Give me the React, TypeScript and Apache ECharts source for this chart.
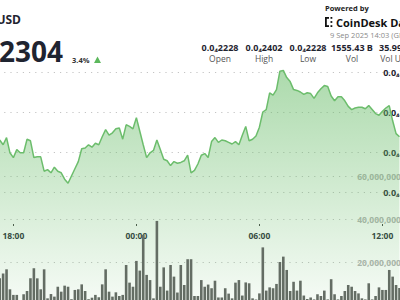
import { useEffect, useRef } from "react";
import * as echarts from "echarts";

// ---- data ----
const START_MINUTES = 17 * 60 + 20; // first 10-minute bucket shown
const STEP_MINUTES = 10;
const TIME_TICK_LABELS = ["18:00", "00:00", "06:00", "12:00"];

// price in units of 0.0₄ (i.e. 2304 => 0.00002304)
const PRICES = [
  2315, 2309, 2318, 2299, 2293, 2303, 2299, 2299, 2316, 2314,
  2293, 2294, 2294, 2276, 2278, 2274, 2281, 2276, 2274, 2266,
  2261, 2270, 2279, 2288, 2304, 2305, 2309, 2306, 2311, 2309,
  2319, 2328, 2321, 2324, 2329, 2330, 2316, 2334, 2332, 2329,
  2343, 2326, 2309, 2293, 2299, 2302, 2315, 2303, 2291, 2289,
  2283, 2288, 2286, 2287, 2289, 2296, 2274, 2277, 2285, 2296,
  2298, 2293, 2313, 2318, 2312, 2315, 2314, 2312, 2310, 2313,
  2309, 2321, 2332, 2314, 2316, 2320, 2331, 2350, 2353, 2374,
  2371, 2378, 2401, 2402, 2393, 2388, 2378, 2377, 2375, 2372,
  2374, 2373, 2367, 2374, 2379, 2383, 2382, 2370, 2364, 2369,
  2369, 2364, 2357, 2353, 2355, 2356, 2356, 2354, 2358, 2353,
  2348, 2346, 2351, 2355, 2358, 2339, 2323, 2319,
];

// volume, billions
const VOLUME_BILLIONS = [
  12.4, 14.7, 16.6, 7.3, 4.7, 4.7, 2.3, 5.0, 6.5, 12.4,
  17.1, 12.4, 7.3, 16.6, 3.1, 5.1, 3.9, 8.5, 6.2, 9.0,
  8.5, 2.7, 7.0, 7.3, 9.6, 6.5, 2.7, 3.4, 4.7, 3.6,
  9.6, 16.6, 6.2, 3.9, 5.9, 4.2, 4.7, 18.6, 10.4, 8.5,
  20.5, 16.0, 32.6, 14.0, 11.6, 3.1, 39.1, 8.5, 17.5, 6.7,
  18.6, 13.2, 5.8, 18.6, 9.3, 21.3, 21.3, 4.2, 4.2, 11.6,
  8.5, 9.5, 7.8, 11.3, 3.5, 3.5, 7.8, 5.3, 3.1, 10.4,
  11.6, 4.4, 10.5, 10.1, 3.1, 2.6, 5.4, 26.8, 6.7, 8.2,
  7.8, 9.8, 20.0, 22.5, 16.3, 6.5, 10.8, 6.7, 11.3, 4.4,
  2.8, 3.5, 2.6, 5.0, 4.2, 6.7, 2.6, 12.0, 5.0, 2.6,
  4.2, 6.5, 9.3, 8.5, 6.5, 5.4, 3.1, 2.6, 10.1, 2.6,
  4.2, 8.2, 7.0, 7.0, 16.3, 13.2, 9.3, 7.9,
];

const PRICE_MIN = 2100;
const PRICE_MAX = 2400;
const PRICE_STEP = 50;
const PRICE_LABEL_FROM = 2250;

const VOLUME_MAX = 60e9;
const VOLUME_STEP = 20e9;

const HEADER_PAIR = "USD";
const HEADER_PRICE = "2304";
const HEADER_CHANGE = "3.4%";
const POWERED_BY = "Powered by";
const BRAND = "CoinDesk Data";
const TIMESTAMP = "9 Sep 2025 14:03 (GMT)";
const STAT_VALUES = ["0.0₄2228", "0.0₄2402", "0.0₄2228", "1555.43 B", "35.99 M"];
const STAT_LABELS = ["Open", "High", "Low", "Vol", "Vol USD"];

// ---- derived ----
const CATEGORIES = PRICES.map((_, i) => {
  const m = (START_MINUTES + i * STEP_MINUTES) % 1440;
  return `${String(Math.floor(m / 60)).padStart(2, "0")}:${String(m % 60).padStart(2, "0")}`;
});

const FONT = '"Open Sans", "DejaVu Sans", sans-serif';
const GRID_COLOR = "#c4c4c4";
const DOTS: number[] = [1.2, 5];

const GRID_LEFT = -2;
const GRID_WIDTH = 403.2;

export default function App() {
  const ref = useRef<HTMLDivElement>(null);

  useEffect(() => {
    if (!ref.current) return;
    const chart = echarts.init(ref.current, null, { renderer: "svg" });

    const priceTicks: number[] = [];
    for (let v = PRICE_MIN; v <= PRICE_MAX; v += PRICE_STEP) priceTicks.push(v);
    const priceLineColors = priceTicks.map((t) => (t >= PRICE_LABEL_FROM ? GRID_COLOR : "rgba(0,0,0,0)"));

    const showTick = (_: number, value: string) => TIME_TICK_LABELS.includes(value);

    const statsGraphics: any[] = [];
    STAT_VALUES.forEach((v, i) => {
      const cx = 220 + 44 * i;
      statsGraphics.push({
        type: "text",
        x: cx,
        y: 47,
        style: { text: v, fill: "#1f2430", font: `bold 9px ${FONT}`, textAlign: "center", textVerticalAlign: "middle", verticalAlign: "middle" },
      });
      statsGraphics.push({
        type: "text",
        x: cx,
        y: 58.5,
        style: { text: STAT_LABELS[i], fill: "#555", font: `8.5px ${FONT}`, textAlign: "center", textVerticalAlign: "middle", verticalAlign: "middle" },
      });
    });

    const gridBase = { left: GRID_LEFT, width: GRID_WIDTH, containLabel: false, outerBoundsMode: "none" };

    const option: any = {
      animation: false,
      backgroundColor: "#ffffff",
      grid: [
        { ...gridBase, top: 72, height: 240 },
        { ...gridBase, top: 176, height: 129 },
        { ...gridBase, top: 190, height: 34 },
      ],
      xAxis: [
        { type: "category", gridIndex: 0, data: CATEGORIES, boundaryGap: true, show: false },
        { type: "category", gridIndex: 1, data: CATEGORIES, boundaryGap: true, show: false },
        {
          type: "category",
          gridIndex: 2,
          data: CATEGORIES,
          boundaryGap: true,
          position: "bottom",
          axisLine: { show: false },
          axisTick: { show: true, alignWithLabel: true, interval: showTick, length: 2, lineStyle: { color: "#444", width: 1 } },
          axisLabel: { interval: showTick, color: "#2b2f38", fontWeight: "bold", fontSize: 8.5, fontFamily: FONT, margin: 7, hideOverlap: false },
          splitLine: { show: false },
        },
      ],
      yAxis: [
        {
          type: "value",
          gridIndex: 0,
          position: "right",
          min: PRICE_MIN,
          max: PRICE_MAX,
          interval: PRICE_STEP,
          axisLine: { show: false },
          axisTick: { show: false },
          axisLabel: {
            inside: true,
            align: "left",
            margin: 18,
            color: "#1f2430",
            fontWeight: "bold",
            fontSize: 9,
            fontFamily: FONT,
            hideOverlap: false,
            formatter: (v: number) => (v >= PRICE_LABEL_FROM ? `0.0₄${v}` : ""),
          },
          splitLine: { show: true, lineStyle: { color: priceLineColors, type: DOTS, width: 1 } },
        },
        {
          type: "value",
          gridIndex: 1,
          position: "right",
          min: 0,
          max: VOLUME_MAX,
          interval: VOLUME_STEP,
          axisLine: { show: false },
          axisTick: { show: false },
          axisLabel: {
            inside: true,
            align: "left",
            margin: 44,
            color: "#b3b3b3",
            fontWeight: "bold",
            fontSize: 8.5,
            fontFamily: FONT,
            hideOverlap: false,
            formatter: (v: number) => (v === 0 ? "" : v.toLocaleString("en-US")),
          },
          splitLine: { show: true, lineStyle: { color: GRID_COLOR, type: DOTS, width: 1 } },
        },
        { type: "value", gridIndex: 2, show: false },
      ],
      series: [
        {
          type: "line",
          xAxisIndex: 0,
          yAxisIndex: 0,
          data: PRICES,
          symbol: "none",
          clip: false,
          lineStyle: { color: "#6cbd6c", width: 1.5 },
          areaStyle: {
            origin: "start",
            color: new echarts.graphic.LinearGradient(0, 0, 0, 1, [
              { offset: 0, color: "rgba(104,188,104,0.78)" },
              { offset: 1, color: "rgba(104,188,104,0.06)" },
            ]),
          },
          z: 1,
        },
        {
          type: "bar",
          xAxisIndex: 1,
          yAxisIndex: 1,
          data: VOLUME_BILLIONS.map((v) => v * 1e9),
          barWidth: "76%",
          itemStyle: { color: "#646d64" },
          z: 2,
        },
      ],
      graphic: [
        {
          type: "text",
          x: 21,
          y: 19.5,
          style: { text: HEADER_PAIR, fill: "#1f2430", font: `bold 12px ${FONT}`, textAlign: "right", textVerticalAlign: "middle", verticalAlign: "middle" },
        },
        {
          type: "text",
          x: 63,
          y: 51,
          style: { text: HEADER_PRICE, fill: "#1f2430", font: `bold 28px ${FONT}`, textAlign: "right", textVerticalAlign: "middle", verticalAlign: "middle" },
        },
        {
          type: "text",
          x: 72,
          y: 59.5,
          style: { text: HEADER_CHANGE, fill: "#333", font: `bold 7.5px ${FONT}`, textAlign: "left", textVerticalAlign: "middle", verticalAlign: "middle" },
        },
        {
          type: "polygon",
          shape: { points: [[94, 63], [97.5, 56.5], [101, 63]] },
          style: { fill: "#5cb85c" },
        },
        {
          type: "text",
          x: 325,
          y: 7.5,
          style: { text: POWERED_BY, fill: "#222", font: `bold 7.5px ${FONT}`, textAlign: "left", textVerticalAlign: "middle", verticalAlign: "middle" },
        },
        { type: "rect", shape: { x: 325, y: 17, width: 1.8, height: 10 }, style: { fill: "#111" } },
        { type: "rect", shape: { x: 325, y: 17, width: 4, height: 1.8 }, style: { fill: "#111" } },
        { type: "rect", shape: { x: 325, y: 25.2, width: 4, height: 1.8 }, style: { fill: "#111" } },
        { type: "rect", shape: { x: 330.5, y: 17, width: 1.8, height: 1.8 }, style: { fill: "#111" } },
        { type: "rect", shape: { x: 330.5, y: 21.1, width: 1.8, height: 1.8 }, style: { fill: "#111" } },
        { type: "rect", shape: { x: 330.5, y: 25.2, width: 1.8, height: 1.8 }, style: { fill: "#111" } },
        {
          type: "text",
          x: 336,
          y: 22,
          style: { text: BRAND, fill: "#111", font: `bold 11px ${FONT}`, textAlign: "left", textVerticalAlign: "middle", verticalAlign: "middle" },
        },
        {
          type: "text",
          x: 330,
          y: 35,
          style: { text: TIMESTAMP, fill: "#8a8a8a", font: `7.5px ${FONT}`, textAlign: "left", textVerticalAlign: "middle", verticalAlign: "middle" },
        },
        ...statsGraphics,
      ],
    };

    chart.setOption(option);
    return () => chart.dispose();
  }, []);

  return (
    <div
      ref={ref}
      style={{ position: "fixed", left: 0, top: 0, width: 400, height: 300, background: "#fff" }}
    />
  );
}
